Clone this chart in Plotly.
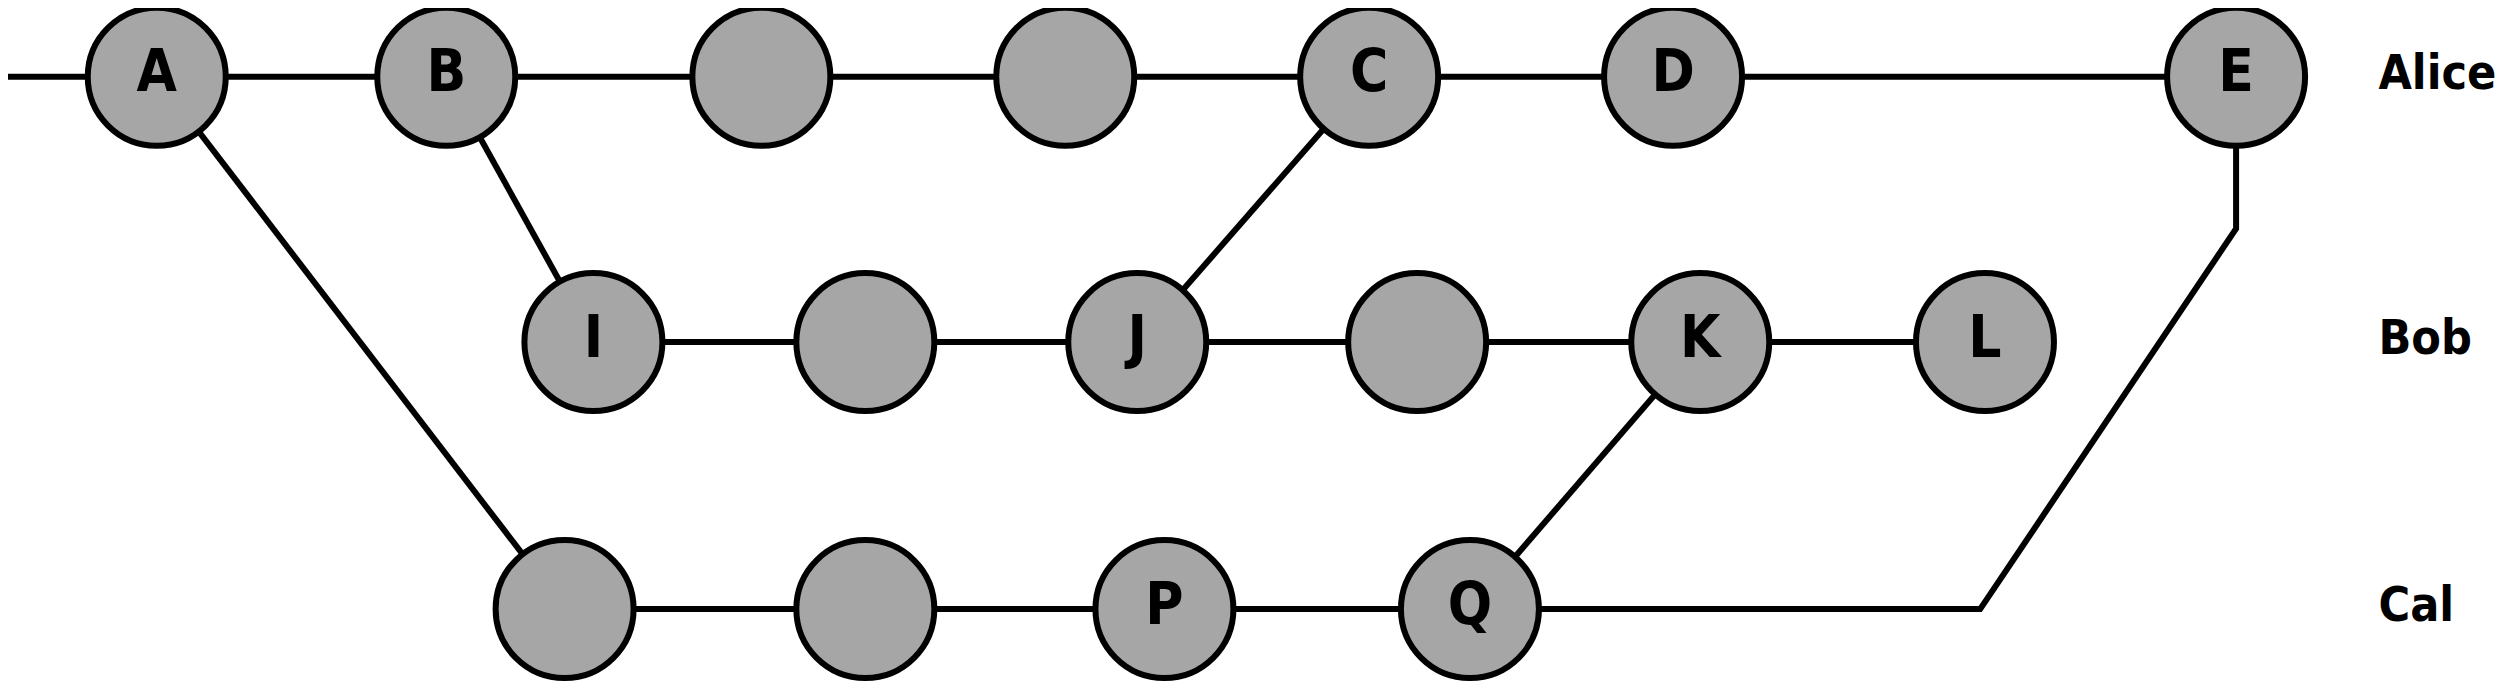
import plotly.graph_objects as go

# commit graph: branch rows and commit columns (layout units of the reference picture)
branches = ["Alice", "Bob", "Cal"]
branch_y = [45, 211, 378]

alice_x = [97, 278, 475, 665, 855, 1045, 1397]
alice_labels = ["A", "B", "", "", "C", "D", "E"]
bob_x = [370, 540, 710, 885, 1062, 1240]
bob_labels = ["I", "", "J", "", "K", "L"]
cal_x = [352, 540, 727, 918]
cal_labels = ["", "", "P", "Q"]

# cross-branch links (x0, y0, x1, y1)
links = [
    (97, 45, 352, 378),    # A -> Cal
    (278, 45, 370, 211),   # B -> I
    (855, 45, 710, 211),   # C -> J
    (1062, 211, 918, 378), # K -> Q
]
# merge path Q -> E
merge_x = [918, 1237, 1397, 1397]
merge_y = [378, 378, 140, 45]

LINE = dict(color="black", width=6)
fig = go.Figure()

# branch lines
fig.add_trace(go.Scatter(x=[0, alice_x[-1]], y=[45, 45], mode="lines", line=LINE))
fig.add_trace(go.Scatter(x=[bob_x[0], bob_x[-1]], y=[211, 211], mode="lines", line=LINE))
for x0, y0, x1, y1 in links:
    fig.add_trace(go.Scatter(x=[x0, x1], y=[y0, y1], mode="lines", line=LINE))
fig.add_trace(go.Scatter(x=[cal_x[0]] + merge_x, y=[378] + merge_y, mode="lines", line=LINE))

# commits
for xs, labels, y in [(alice_x, alice_labels, 45), (bob_x, bob_labels, 211), (cal_x, cal_labels, 378)]:
    fig.add_trace(go.Scatter(
        x=xs, y=[y] * len(xs), mode="markers+text", text=labels,
        textposition="middle center",
        textfont=dict(family="DejaVu Sans Condensed", size=58, color="black", weight="bold"),
        marker=dict(size=138, color="#a6a6a6", line=dict(color="black", width=6)),
    ))

# branch names
fig.add_trace(go.Scatter(
    x=[1486] * 3, y=branch_y, mode="text", text=branches, textposition="middle right",
    textfont=dict(family="DejaVu Sans Condensed", size=48, color="black", weight="bold"),
))

fig.update_layout(
    width=2508, height=681, showlegend=False,
    margin=dict(l=0, r=0, t=0, b=0),
    plot_bgcolor="white", paper_bgcolor="white",
    xaxis=dict(range=[4, 1572], visible=False),
    yaxis=dict(range=[428, 2], visible=False),
)
fig.write_html("out.html")
